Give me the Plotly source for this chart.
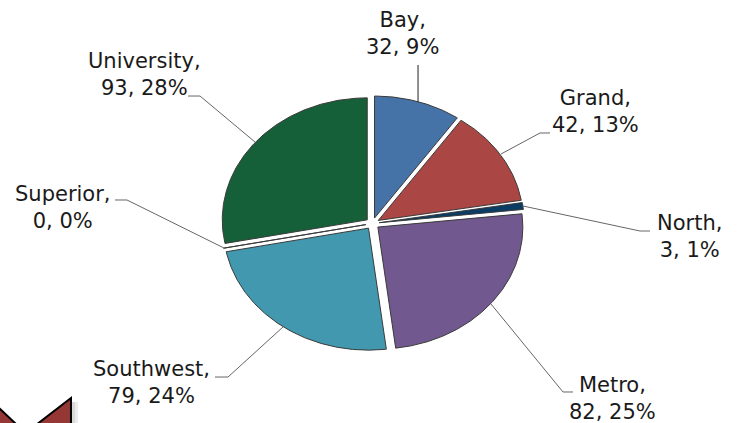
import numpy as np
import plotly.graph_objects as go

W, H = 737, 423
categories = ["Bay", "Grand", "North", "Metro", "Southwest", "Superior", "University"]
values = [32, 42, 3, 82, 79, 0, 93]
percents = ["9%", "13%", "1%", "25%", "24%", "0%", "28%"]
colors = ["#4572A7", "#AA4643", "#0B3C63", "#71588F", "#4198AF", "#1F6B45", "#156038"]
explode = 0.047

# pixel frame: the original pie is stretched into an ellipse
CX, CY, RX, RY = 372.5, 223.5, 145, 122

label_pos = [(403, 33.5), (595, 111), (689, 236), (612, 398.5), (151, 382.5), (63, 207.5), (144, 74.5)]
leaders = [
    ([(418, 102), (418, 65)], "#222222"),
    ([(501, 154), (540, 133), (550, 133)], "#666666"),
    ([(523, 206), (640, 231), (650, 231)], "#666666"),
    ([(491, 304), (563, 392), (573, 392)], "#666666"),
    ([(283, 327), (228, 377), (215, 377)], "#666666"),
    ([(224, 248), (127, 200), (115, 200)], "#666666"),
    ([(255, 142), (200, 96), (188, 96)], "#666666"),
]

fig = go.Figure()
total = sum(values)
start = 0.0
for cat, val, pct, col in zip(categories, values, percents, colors):
    sweep = 2 * np.pi * val / total
    mid = start + sweep / 2
    dx, dy = explode * np.sin(mid), explode * np.cos(mid)
    t = np.linspace(start, start + sweep, max(2, int(val * 3)))
    xs = np.concatenate([[dx], dx + np.sin(t), [dx]])
    ys = np.concatenate([[dy], dy + np.cos(t), [dy]])
    fig.add_trace(go.Scatter(
        x=xs, y=ys, mode="lines", fill="toself", fillcolor=col,
        line=dict(color="#3a3a3a", width=1), name=cat, showlegend=False,
        hoveron="fills", text=f"{cat}: {val}, {pct}", hoverinfo="text",
    ))
    start += sweep

shapes = []
for pts, col in leaders:
    path = "M " + " L ".join(f"{x / W:.4f},{1 - y / H:.4f}" for x, y in pts)
    shapes.append(dict(type="path", path=path, xref="paper", yref="paper",
                       line=dict(color=col, width=1)))

# decorative chevron in the lower-left corner, with its soft shadow
for x0, x1, op in [(72, 75, 0.30), (75, 78, 0.15)]:
    shapes.append(dict(type="rect", x0=x0 / W, x1=x1 / W, y0=0, y1=1 - 402 / H,
                       xref="paper", yref="paper", fillcolor="#808080", opacity=op,
                       line=dict(width=0)))
for poly in ([(-4, 405), (17, 425), (-4, 425)], [(36, 425), (71, 398), (71, 425)]):
    path = "M " + " L ".join(f"{x / W:.4f},{1 - y / H:.4f}" for x, y in poly) + " Z"
    shapes.append(dict(type="path", path=path, xref="paper", yref="paper",
                       fillcolor="#953735", line=dict(color="#000000", width=2)))

annotations = []
for cat, val, pct, (x, y) in zip(categories, values, percents, label_pos):
    annotations.append(dict(
        text=f"{cat},<br>{val}, {pct}", x=x / W, y=1 - y / H, xref="paper", yref="paper",
        showarrow=False, align="center", xanchor="center", yanchor="middle",
        font=dict(family="DejaVu Sans", size=21, color="#1a1a1a"),
    ))

fig.update_layout(
    width=W, height=H, margin=dict(l=0, r=0, t=0, b=0),
    paper_bgcolor="white", plot_bgcolor="white",
    xaxis=dict(visible=False, range=[-CX / RX, (W - CX) / RX], fixedrange=True),
    yaxis=dict(visible=False, range=[(CY - H) / RY, CY / RY], fixedrange=True),
    shapes=shapes, annotations=annotations,
)
fig.write_html("out.html", config=dict(displayModeBar=False),
               post_script="document.body.style.margin='0';")
